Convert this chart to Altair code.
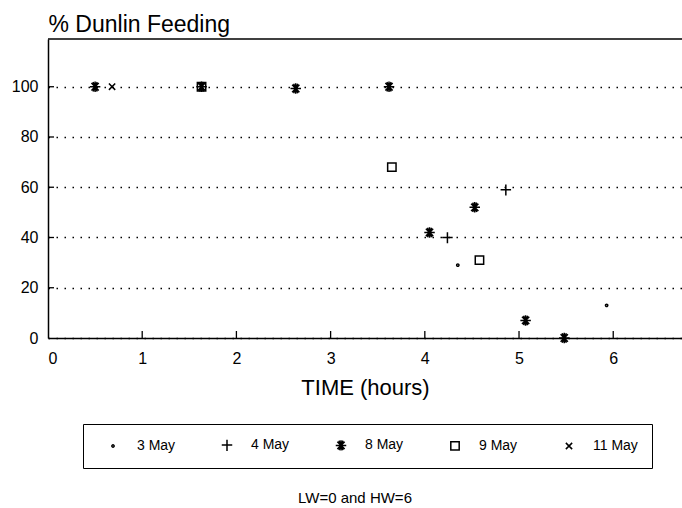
import altair as alt
import pandas as pd

# ---- data ----
dates = ["3 May", "4 May", "8 May", "9 May", "11 May"]

may3_time = [4.35, 5.93]
may3_feed = [29, 13]

may4_time = [4.24, 4.86]
may4_feed = [40, 59]

may8_time = [0.50, 1.63, 2.63, 3.62, 4.05, 4.53, 5.07, 5.48]
may8_feed = [100, 100, 99.3, 100, 42, 52, 7, 0]

may9_time = [1.63, 3.65, 4.58]
may9_feed = [100, 68, 31]

may11_time = [0.68]
may11_feed = [100]

x_ticks = [0, 1, 2, 3, 4, 5, 6]
y_ticks = [0, 20, 40, 60, 80, 100]

note_text = "LW=0 and HW=6"

series = [
    ("3 May", may3_time, may3_feed),
    ("4 May", may4_time, may4_feed),
    ("8 May", may8_time, may8_feed),
    ("9 May", may9_time, may9_feed),
    ("11 May", may11_time, may11_feed),
]
rows = []
for name, ts, fs in series:
    for t, f in zip(ts, fs):
        rows.append({"date": name, "time": t, "feed": f})
df = pd.DataFrame(rows)

shapes = [
    "M-0.22,0A0.22,0.22 0 1,0 0.22,0A0.22,0.22 0 1,0 -0.22,0",          # dot
    "M-1,0L1,0M0,-1L0,1.1",                                                # plus
    "M-1,0L1,0M0,-1L0,1M-0.7,-0.7L0.7,0.7M-0.7,0.7L0.7,-0.7M-0.4,-0.9L0.4,0.9M-0.4,0.9L0.4,-0.9",  # asterisk
    "M-0.8,-0.8L0.8,-0.8L0.8,0.8L-0.8,0.8Z",                               # square
    "M-0.6,-0.6L0.6,0.6M-0.6,0.6L0.6,-0.6",                                # x
]

W = 634
H = 299
FONT = "Liberation Sans"

xs = alt.Scale(domain=[0, 6.73], nice=False, zero=False)
ys = alt.Scale(domain=[0, 119], nice=False)

points = alt.Chart(df).mark_point(filled=False, stroke="black", strokeWidth=1.5, size=110, opacity=1).encode(
    x=alt.X("time:Q", scale=xs,
            axis=alt.Axis(values=x_ticks, format="d", title="TIME (hours)", grid=False,
                          tickSize=0, labelPadding=12, labelFontSize=16, labelColor="black",
                          labelFont=FONT, titleFont=FONT, titleFontSize=22, titleFontWeight="normal",
                          titleColor="black", titlePadding=11, domainColor="black", domainWidth=1.5)),
    y=alt.Y("feed:Q", scale=ys,
            axis=alt.Axis(values=y_ticks, title="% Dunlin Feeding", grid=True,
                          gridColor="black", gridDash=[1.5, 6.5], gridWidth=1.3,
                          tickSize=0, labelPadding=10, labelFontSize=16, labelColor="black",
                          labelFont=FONT, titleFont=FONT, titleFontSize=23, titleFontWeight="normal",
                          titleColor="black", titleAngle=0, titleAlign="left", titleBaseline="alphabetic",
                          titleX=0, titleY=-8, domainColor="black", domainWidth=1.5)),
    shape=alt.Shape("date:N", scale=alt.Scale(domain=dates, range=shapes),
                    legend=alt.Legend(orient="none", legendX=35, legendY=385, direction="horizontal",
                                      columns=5, title=None, strokeColor="black", padding=14,
                                      labelFontSize=14, labelFont=FONT, labelColor="black", labelOffset=17,
                                      symbolSize=110, symbolStrokeWidth=1.5, symbolStrokeColor="black",
                                      symbolOffset=9, gridAlign="all", columnPadding=29)),
)

top_border = alt.Chart(pd.DataFrame({"t": [0]})).mark_rule(color="black", strokeWidth=1.5).encode(
    x=alt.value(0), x2=alt.value(W), y=alt.value(0)
)

xt = alt.Chart(pd.DataFrame({"t": x_ticks[1:]})).mark_rule(color="black", strokeWidth=1.3).encode(
    x=alt.X("t:Q", scale=xs), y=alt.value(H), y2=alt.value(H - 7)
)
yt = alt.Chart(pd.DataFrame({"v": y_ticks[1:]})).mark_rule(color="black", strokeWidth=1.3).encode(
    y=alt.Y("v:Q", scale=ys), x=alt.value(0), x2=alt.value(6)
)

note = alt.Chart(pd.DataFrame({"n": [note_text]})).mark_text(
    font=FONT, fontSize=15, color="black", align="center", baseline="middle"
).encode(text="n:N", x=alt.value(307), y=alt.value(459))

chart = alt.layer(top_border, xt, yt, points, note).properties(
    width=W, height=H,
    autosize=alt.AutoSizeParams(type="none"),
    padding={"left": 48, "top": 39, "right": 0, "bottom": 170},
    background="white",
).configure_view(stroke=None)

chart.save("out.html", embed_options={"renderer": "svg", "actions": False})
